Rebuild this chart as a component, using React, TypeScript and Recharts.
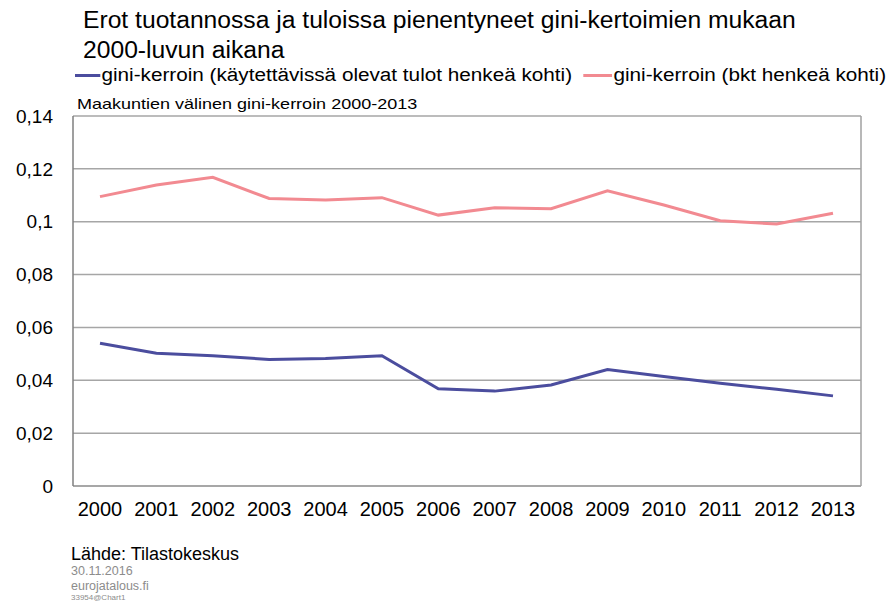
import React from 'react';
import { LineChart, Line, XAxis, YAxis, CartesianGrid } from 'recharts';

const years = ['2000', '2001', '2002', '2003', '2004', '2005', '2006', '2007', '2008', '2009', '2010', '2011', '2012', '2013'];
const tulot = [0.054, 0.0502, 0.0493, 0.0479, 0.0482, 0.0493, 0.0368, 0.0359, 0.0382, 0.0441, 0.0414, 0.0389, 0.0366, 0.0341];
const bkt = [0.1095, 0.1139, 0.1168, 0.1088, 0.1082, 0.1091, 0.1025, 0.1053, 0.1049, 0.1117, 0.1063, 0.1004, 0.0991, 0.1032];
const yTicks = [0, 0.02, 0.04, 0.06, 0.08, 0.1, 0.12, 0.14];

const data = years.map((year, i) => ({ year, tulot: tulot[i], bkt: bkt[i] }));

const BLUE = '#4b4d9e';
const PINK = '#f28a91';
const FONT = '"Liberation Sans", Arial, sans-serif';

const fmt = (v: number) => String(v).replace('.', ',');

export default function App() {
  return (
    <div style={{ position: 'absolute', left: 0, top: 0, width: 893, height: 608, background: '#fff', fontFamily: FONT, color: '#000' }}>
      <div
        style={{
          position: 'absolute',
          left: 83,
          top: 5,
          fontSize: 23,
          lineHeight: '30px',
          whiteSpace: 'nowrap',
          transform: 'scaleX(1.072)',
          transformOrigin: 'left top',
        }}
      >
        Erot tuotannossa ja tuloissa pienentyneet gini-kertoimien mukaan
        <br />
        2000-luvun aikana
      </div>

      {/* legend */}
      <div
        style={{
          position: 'absolute',
          left: 75,
          top: 65,
          fontSize: 18,
          whiteSpace: 'nowrap',
          display: 'flex',
          alignItems: 'center',
          transform: 'scaleX(1.15)',
          transformOrigin: 'left top',
        }}
      >
        <span style={{ display: 'inline-block', width: 22, height: 3, background: BLUE, marginRight: 1 }} />
        <span>gini-kerroin (käytettävissä olevat tulot henkeä kohti)</span>
        <span style={{ display: 'inline-block', width: 25, height: 3, background: PINK, marginLeft: 10, marginRight: 1 }} />
        <span>gini-kerroin (bkt henkeä kohti)</span>
      </div>

      <div
        style={{
          position: 'absolute',
          left: 77,
          top: 95,
          fontSize: 15,
          whiteSpace: 'nowrap',
          transform: 'scaleX(1.2)',
          transformOrigin: 'left top',
        }}
      >
        Maakuntien välinen gini-kerroin 2000-2013
      </div>

      <LineChart width={893} height={608} data={data} margin={{ top: 116, right: 31, bottom: 92, left: 0 }}>
        <CartesianGrid vertical={false} stroke="#a6a6a6" strokeWidth={1.5} />
        <XAxis
          dataKey="year"
          padding={{ left: 27, right: 28 }}
          axisLine={{ stroke: '#a0a0a0', strokeWidth: 1.5 }}
          tickLine={false}
          tickSize={0}
          tickMargin={16}
          height={30}
          interval={0}
          tick={{ fill: '#000', fontSize: 20, fontFamily: FONT }}
        />
        <YAxis
          domain={[0, 0.14]}
          ticks={yTicks}
          tickFormatter={fmt}
          width={73}
          axisLine={{ stroke: '#7f7f7f', strokeWidth: 1.5 }}
          tickLine={false}
          tickSize={0}
          tickMargin={20}
          tick={{ fill: '#000', fontSize: 19, fontFamily: FONT }}
        />
        <YAxis
          yAxisId="right"
          orientation="right"
          domain={[0, 0.14]}
          width={1}
          tick={false}
          tickLine={false}
          axisLine={{ stroke: '#a0a0a0', strokeWidth: 1.5 }}
        />
        <Line type="linear" dataKey="bkt" stroke={PINK} strokeWidth={3} dot={false} isAnimationActive={false} />
        <Line type="linear" dataKey="tulot" stroke={BLUE} strokeWidth={3} dot={false} isAnimationActive={false} />
      </LineChart>

      <div style={{ position: 'absolute', left: 71, top: 544, fontSize: 18, whiteSpace: 'nowrap' }}>Lähde: Tilastokeskus</div>
      <div style={{ position: 'absolute', left: 71, top: 564, fontSize: 12.5, color: '#8c8c8c' }}>30.11.2016</div>
      <div style={{ position: 'absolute', left: 71, top: 579, fontSize: 12.5, color: '#8c8c8c' }}>eurojatalous.fi</div>
      <div style={{ position: 'absolute', left: 71, top: 593, fontSize: 8, color: '#8c8c8c' }}>33954@Chart1</div>
    </div>
  );
}
